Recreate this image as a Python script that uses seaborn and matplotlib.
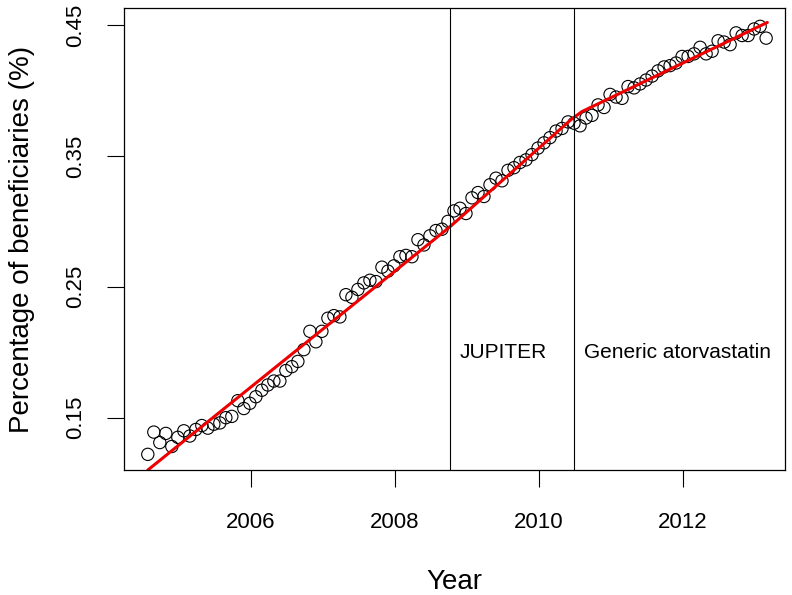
import numpy as np
import pandas as pd
import seaborn as sns
import matplotlib.pyplot as plt

# Monthly share of beneficiaries (%), Aug 2004 onwards
start_year = 2004.57
pct = [0.122, 0.139, 0.131, 0.138, 0.128, 0.135, 0.140, 0.136, 0.141, 0.144,
       0.142, 0.145, 0.146, 0.150, 0.151, 0.163, 0.157, 0.161, 0.166, 0.171,
       0.175, 0.178, 0.178, 0.186, 0.189, 0.193, 0.202, 0.216, 0.208, 0.216,
       0.226, 0.228, 0.227, 0.244, 0.242, 0.248, 0.253, 0.255, 0.254, 0.265,
       0.262, 0.266, 0.273, 0.274, 0.273, 0.286, 0.282, 0.289, 0.293, 0.294,
       0.300, 0.308, 0.310, 0.306, 0.318, 0.322, 0.319, 0.328, 0.333, 0.331,
       0.339, 0.341, 0.345, 0.347, 0.351, 0.356, 0.360, 0.364, 0.369, 0.371,
       0.376, 0.375, 0.373, 0.379, 0.381, 0.389, 0.387, 0.397, 0.395, 0.394,
       0.403, 0.402, 0.405, 0.408, 0.411, 0.415, 0.418, 0.419, 0.421, 0.426,
       0.426, 0.428, 0.433, 0.428, 0.430, 0.438, 0.437, 0.435, 0.444, 0.442,
       0.442, 0.447, 0.449, 0.440]

# fitted segmented trend
fit_year = [2004.57, 2008.70, 2008.85, 2010.45, 2010.60, 2013.17]
fit_pct = [0.110, 0.293, 0.300, 0.378, 0.384, 0.452]

events = [2008.76, 2010.49]
event_labels = ["JUPITER", "Generic atorvastatin"]

df = pd.DataFrame({"year": start_year + np.arange(len(pct)) / 12, "pct": pct})
fit = pd.DataFrame({"year": fit_year, "pct": fit_pct})

sns.set_style("white")
plt.rcParams['font.family'] = ['Liberation Sans', 'DejaVu Sans']
plt.rcParams['text.color'] = 'black'
plt.rcParams['axes.labelcolor'] = 'black'
plt.rcParams['xtick.color'] = 'black'
plt.rcParams['ytick.color'] = 'black'

fig = plt.figure(figsize=(7.92, 5.95), dpi=100)
ax = fig.add_axes([0.1566, 0.21, 0.835, 0.7765])

sns.scatterplot(data=df, x="year", y="pct", ax=ax, s=78, marker="o",
                facecolors="none", edgecolor="black", linewidth=0.8)
sns.lineplot(data=fit, x="year", y="pct", ax=ax, color="#ee0000", linewidth=2.2)

for xv, lab in zip(events, event_labels):
    ax.axvline(xv, color="black", linewidth=0.8)
    ax.text(xv + 0.14, 0.20, lab, fontsize=15, va="center", ha="left")

ax.set_xlim(2004.24, 2013.42)
ax.set_ylim(0.110, 0.463)
ax.set_xticks([2006, 2008, 2010, 2012])
ax.set_yticks([0.15, 0.25, 0.35, 0.45])
ax.set_yticklabels(["0.15", "0.25", "0.35", "0.45"], rotation=90, va="center")
ax.tick_params(axis="both", direction="out", length=12, width=0.8,
               labelsize=16, bottom=True, left=True)
ax.tick_params(axis="x", pad=18)
ax.tick_params(axis="y", pad=15)

for sp in ax.spines.values():
    sp.set_color("black")
    sp.set_linewidth(0.9)

ax.set_xlabel("Year", fontsize=20, labelpad=26)
ax.set_ylabel("Percentage of beneficiaries (%)", fontsize=20, labelpad=22)

fig.savefig("out.png", dpi=100)
